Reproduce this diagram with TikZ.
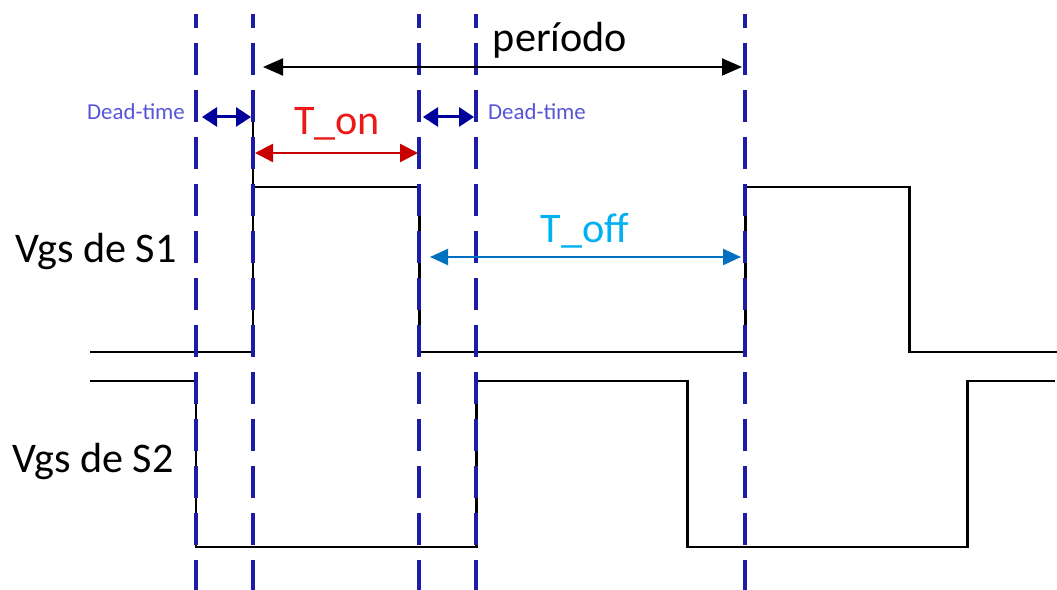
\documentclass[tikz,border=0pt]{standalone}
\usepackage{fontspec}
\setmainfont{Carlito}
\usepackage{xcolor}
\usetikzlibrary{arrows.meta, positioning, calc}
\definecolor{guideblue}{RGB}{28,28,165}
\definecolor{deadblue}{RGB}{0,0,155}
\definecolor{deadtext}{RGB}{85,85,215}
\definecolor{onred}{RGB}{200,0,0}
\definecolor{ontext}{RGB}{235,25,25}
\definecolor{offblue}{RGB}{0,112,192}
\definecolor{offtext}{RGB}{0,176,240}

\begin{document}
\begin{tikzpicture}[
    x=0.02cm, y=-0.02cm,
    signal/.style={line width=1.7pt, black, line join=miter},
    guide/.style={line width=2.2pt, draw=guideblue, dash pattern=on 0.64cm off 0.3cm, dash phase=0.36cm},
    period/.style={<->, >={Triangle[length=0.4cm, width=0.34cm]}, line width=1.1pt, black},
    dead/.style={<->, >={Triangle[length=0.3cm, width=0.38cm]}, line width=1.7pt, deadblue},
    ton/.style={<->, >={Triangle[length=0.36cm, width=0.36cm]}, line width=1.4pt, onred},
    toff/.style={<->, >={Triangle[length=0.36cm, width=0.32cm]}, line width=1.2pt, offblue},
    biglabel/.style={font=\fontsize{24}{28}\selectfont, anchor=base, inner sep=0pt},
    smalllabel/.style={font=\fontsize{13}{15}\selectfont, anchor=base, inner sep=0pt, text=deadtext}
]
    \useasboundingbox (0,0) rectangle (1057,590);

    % gate signals
    \draw[signal] (90,352) -- (253,352) -- (253,187) -- (419,187) -- (419,352)
        -- (745,352) -- (745,187) -- (909,187) -- (909,352) -- (1057,352);
    \draw[signal] (253,187) -- (253,118);
    \draw[signal] (90,381) -- (196,381) -- (196,547) -- (476,547) -- (476,381)
        -- (687,381) -- (687,547) -- (967,547) -- (967,381) -- (1055,381);

    % switching instants
    \foreach \name/\xx in {dA/196, dB/253, dC/419, dD/476, dE/745} {
        \coordinate (\name-top) at (\xx,14);
        \coordinate (\name-bot) at (\xx,590);
        \draw[guide] (\name-top) -- (\name-bot);
    }

    \node[biglabel] (s1) at (96,263) {Vgs de S1};
    \node[biglabel] (s2) at (93,473) {Vgs de S2};

    \coordinate (per-l) at (263,67);
    \coordinate (per-r) at (742,67);
    \coordinate (dt1-l) at (202,117);
    \coordinate (dt1-r) at (251,117);
    \coordinate (dt2-l) at (423,117);
    \coordinate (dt2-r) at (474,117);
    \coordinate (on-l) at (255,153);
    \coordinate (on-r) at (418,153);
    \coordinate (off-l) at (430,257);
    \coordinate (off-r) at (741,257);

    \node[biglabel] (period) at (560,52) {período};
    \node[smalllabel] (dt1) at (136,120) {Dead-time};
    \node[smalllabel] (dt2) at (537,120) {Dead-time};
    \node[biglabel, text=ontext] (ton) at (337,135) {T\_on};
    \node[biglabel, text=offtext] (toff) at (585,243) {T\_off};

    \draw[period] (per-l) -- (per-r);
    \draw[dead] (dt1-l) -- (dt1-r);
    \draw[dead] (dt2-l) -- (dt2-r);
    \draw[ton] (on-l) -- (on-r);
    \draw[toff] (off-l) -- (off-r);
\end{tikzpicture}
\end{document}
